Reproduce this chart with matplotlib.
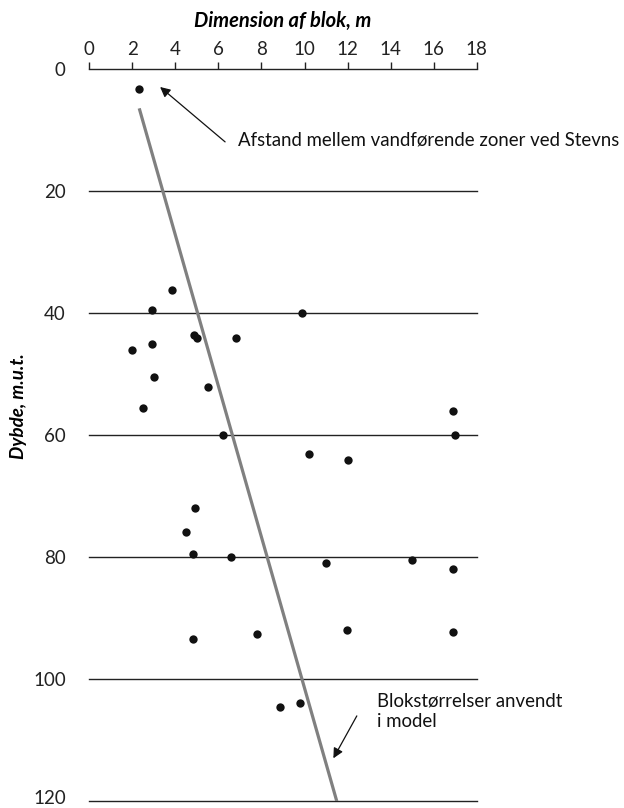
import matplotlib
matplotlib.use("Agg")
import matplotlib.pyplot as plt
import matplotlib.transforms as mtransforms

plt.rcParams['font.family'] = ['Lato', 'DejaVu Sans']

# Data (x = block dimension m, y = depth m.u.t.)
block_dim = [2.31, 3.86, 2.90, 4.88, 4.99, 6.80, 2.90, 2.00, 3.01, 5.50, 2.51,
             6.20, 9.90, 16.89, 16.99, 10.21, 12.01, 4.90, 4.49, 4.82, 6.60,
             11.0, 14.98, 16.89, 4.82, 7.81, 11.99, 16.89, 8.86, 9.79]
depth = [3.3, 36.1, 39.5, 43.5, 44.0, 44.0, 45.0, 46.0, 50.4, 52.1, 55.5,
         60.0, 40.0, 56.0, 60.0, 63.0, 64.1, 72.0, 75.8, 79.5, 80.0,
         81.0, 80.4, 81.9, 93.4, 92.5, 92.0, 92.2, 104.5, 103.9]

model_x = [2.32, 11.5]
model_y = [6.4, 120.0]

x_ticks = [0, 2, 4, 6, 8, 10, 12, 14, 16, 18]
y_ticks = [0, 20, 40, 60, 80, 100, 120]

fig = plt.figure(figsize=(6.24, 8.08), dpi=100)
ax = fig.add_axes([89.3 / 624, 1 - 801.3 / 808, (476.7 - 89.3) / 624, (801.3 - 69.3) / 808])

ax.set_xlim(0, 18)
ax.set_ylim(120, 0)

for s in ['left', 'right', 'bottom']:
    ax.spines[s].set_visible(False)
ax.spines['top'].set_linewidth(1.0)
ax.spines['top'].set_color('#222222')

ax.xaxis.tick_top()
ax.set_xticks(x_ticks)
ax.set_xticklabels([str(v) for v in x_ticks])
ax.tick_params(axis='x', direction='out', length=5, width=1.0, colors='#222222',
               labelsize=13.5, pad=3)

# y tick labels (the lowest one is drawn slightly raised so it stays inside the figure)
ax.set_yticks(y_ticks)
ax.set_yticklabels([str(v) for v in y_ticks[:-1]] + [''])
ax.tick_params(axis='y', length=0, labelsize=13.5, pad=17, colors='#222222')
lab_trans = mtransforms.blended_transform_factory(ax.transAxes, ax.transData) + \
    mtransforms.ScaledTranslation(-17 / 72, 3 / 72, fig.dpi_scale_trans)
ax.text(0, y_ticks[-1], str(y_ticks[-1]), transform=lab_trans, fontsize=13.5,
        ha='right', va='center_baseline', color='#222222', clip_on=False)

for yv in y_ticks[1:]:
    ax.axhline(yv, color='#222222', lw=1.0, zorder=1, clip_on=False)

ax.plot(model_x, model_y, color='#808080', lw=2.3, solid_capstyle='butt', zorder=2)
ax.scatter(block_dim, depth, s=36, color='#111111', zorder=3, linewidths=0)

ax.set_xlabel('Dimension af blok, m', fontsize=14.5, fontweight='bold', style='italic',
              labelpad=10)
ax.xaxis.set_label_position('top')
ax.set_ylabel('Dybde, m.u.t.', fontsize=13.5, fontweight='bold', style='italic')
ax.yaxis.set_label_coords(-0.16, 0.54)

arrow_style = dict(arrowstyle='-|>', color='#111111', lw=0.9,
                   mutation_scale=15, shrinkA=0, shrinkB=0)

ax.annotate('', xy=(3.29, 2.9), xytext=(6.31, 11.9), annotation_clip=False,
            arrowprops=arrow_style)
ax.text(6.91, 11.6, 'Afstand mellem vandførende zoner ved Stevns', fontsize=13.4,
        va='center', ha='left', color='#111111', clip_on=False)

ax.annotate('', xy=(11.34, 112.95), xytext=(12.43, 106.0), annotation_clip=False,
            arrowprops=arrow_style)
ax.text(13.36, 105.2, 'Blokstørrelser anvendt\ni model', fontsize=13.4,
        va='center', ha='left', linespacing=1.25, color='#111111', clip_on=False)

fig.savefig('out.png', dpi=100)
